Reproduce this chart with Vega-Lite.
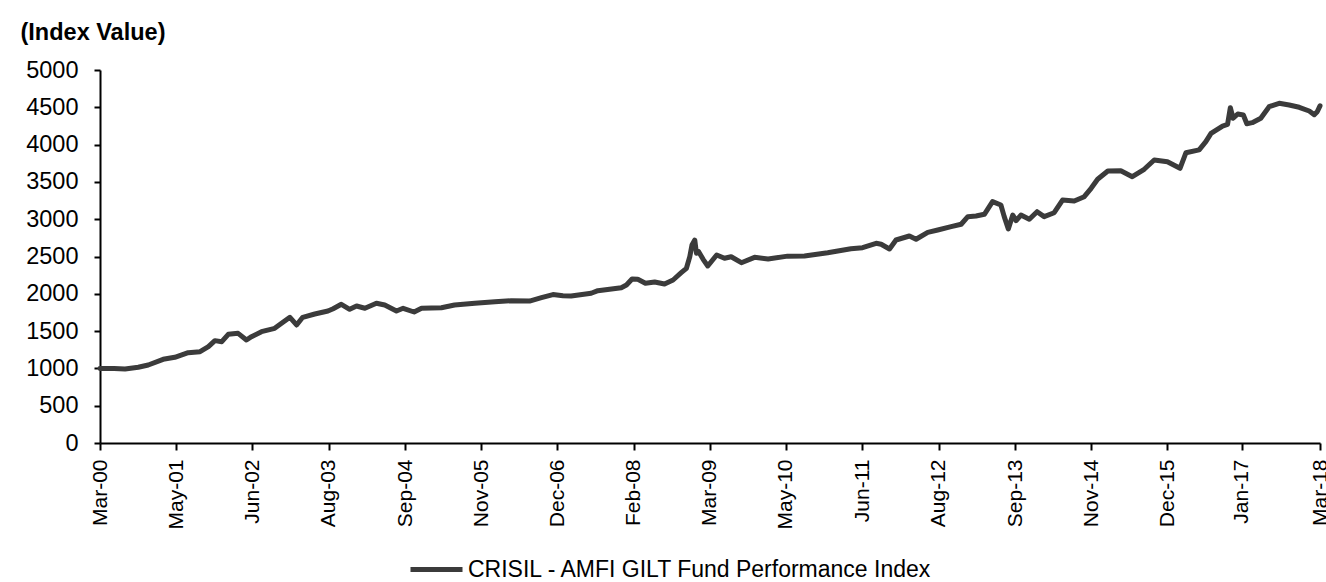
{
  "$schema": "https://vega.github.io/schema/vega-lite/v6.json",
  "width": 1220,
  "height": 373,
  "autosize": "none",
  "padding": {"left": 100, "top": 70, "right": 6, "bottom": 139},
  "background": "white",
  "config": {
    "font": "Liberation Sans",
    "view": {"stroke": null},
    "axis": {"grid": false, "domainColor": "#000000", "domainWidth": 2, "tickColor": "#000000", "tickWidth": 2, "labelColor": "#000000", "labelFont": "Liberation Sans"}
  },
  "data": {
    "values": [
      {"date": "2000-03-31", "value": 1000},
      {"date": "2000-06-15", "value": 998},
      {"date": "2000-08-13", "value": 992},
      {"date": "2000-10-23", "value": 1015},
      {"date": "2000-12-16", "value": 1046},
      {"date": "2001-03-06", "value": 1122},
      {"date": "2001-05-08", "value": 1149},
      {"date": "2001-07-19", "value": 1211},
      {"date": "2001-09-21", "value": 1224},
      {"date": "2001-11-05", "value": 1291},
      {"date": "2001-12-10", "value": 1372},
      {"date": "2002-01-16", "value": 1358},
      {"date": "2002-02-20", "value": 1457},
      {"date": "2002-04-14", "value": 1470},
      {"date": "2002-05-29", "value": 1381},
      {"date": "2002-06-25", "value": 1425},
      {"date": "2002-08-18", "value": 1492},
      {"date": "2002-10-28", "value": 1537},
      {"date": "2002-12-04", "value": 1604},
      {"date": "2003-01-18", "value": 1685},
      {"date": "2003-02-23", "value": 1582},
      {"date": "2003-03-28", "value": 1685},
      {"date": "2003-06-01", "value": 1729},
      {"date": "2003-08-11", "value": 1769},
      {"date": "2003-09-08", "value": 1800},
      {"date": "2003-10-22", "value": 1859},
      {"date": "2003-12-06", "value": 1792},
      {"date": "2004-01-12", "value": 1836},
      {"date": "2004-02-26", "value": 1806},
      {"date": "2004-04-28", "value": 1873},
      {"date": "2004-06-12", "value": 1850},
      {"date": "2004-08-14", "value": 1769},
      {"date": "2004-09-19", "value": 1806},
      {"date": "2004-11-17", "value": 1756},
      {"date": "2004-12-27", "value": 1806},
      {"date": "2005-04-13", "value": 1814},
      {"date": "2005-06-23", "value": 1850},
      {"date": "2005-10-10", "value": 1873},
      {"date": "2006-01-26", "value": 1894},
      {"date": "2006-04-24", "value": 1907},
      {"date": "2006-08-01", "value": 1903},
      {"date": "2006-10-04", "value": 1948},
      {"date": "2006-12-05", "value": 1990},
      {"date": "2007-01-28", "value": 1975},
      {"date": "2007-03-13", "value": 1971},
      {"date": "2007-06-29", "value": 2007},
      {"date": "2007-08-04", "value": 2042},
      {"date": "2007-12-08", "value": 2082},
      {"date": "2008-01-05", "value": 2118},
      {"date": "2008-02-04", "value": 2198},
      {"date": "2008-03-06", "value": 2194},
      {"date": "2008-04-16", "value": 2141},
      {"date": "2008-06-05", "value": 2158},
      {"date": "2008-07-28", "value": 2131},
      {"date": "2008-09-12", "value": 2185},
      {"date": "2008-10-26", "value": 2283},
      {"date": "2008-11-23", "value": 2342},
      {"date": "2008-12-11", "value": 2497},
      {"date": "2008-12-23", "value": 2654},
      {"date": "2009-01-07", "value": 2720},
      {"date": "2009-01-16", "value": 2543},
      {"date": "2009-01-28", "value": 2564},
      {"date": "2009-02-21", "value": 2462},
      {"date": "2009-03-18", "value": 2373},
      {"date": "2009-05-05", "value": 2520},
      {"date": "2009-06-16", "value": 2476},
      {"date": "2009-07-22", "value": 2497},
      {"date": "2009-09-15", "value": 2417},
      {"date": "2009-11-25", "value": 2489},
      {"date": "2010-02-06", "value": 2466},
      {"date": "2010-05-22", "value": 2505},
      {"date": "2010-08-21", "value": 2507},
      {"date": "2010-12-24", "value": 2551},
      {"date": "2011-04-28", "value": 2605},
      {"date": "2011-06-30", "value": 2618},
      {"date": "2011-09-11", "value": 2677},
      {"date": "2011-10-08", "value": 2664},
      {"date": "2011-11-22", "value": 2601},
      {"date": "2011-12-27", "value": 2721},
      {"date": "2012-03-08", "value": 2775},
      {"date": "2012-04-13", "value": 2731},
      {"date": "2012-06-15", "value": 2824},
      {"date": "2012-08-08", "value": 2855},
      {"date": "2012-10-19", "value": 2900},
      {"date": "2012-12-12", "value": 2932},
      {"date": "2013-01-17", "value": 3034},
      {"date": "2013-03-02", "value": 3043},
      {"date": "2013-04-16", "value": 3066},
      {"date": "2013-05-30", "value": 3235},
      {"date": "2013-07-14", "value": 3190},
      {"date": "2013-08-01", "value": 3034},
      {"date": "2013-08-23", "value": 2870},
      {"date": "2013-09-16", "value": 3056},
      {"date": "2013-10-04", "value": 2980},
      {"date": "2013-10-30", "value": 3056},
      {"date": "2013-12-14", "value": 2999},
      {"date": "2014-01-25", "value": 3101},
      {"date": "2014-03-04", "value": 3034},
      {"date": "2014-04-27", "value": 3087},
      {"date": "2014-06-11", "value": 3257},
      {"date": "2014-08-13", "value": 3244},
      {"date": "2014-10-06", "value": 3302},
      {"date": "2014-11-12", "value": 3414},
      {"date": "2014-12-17", "value": 3535},
      {"date": "2015-02-10", "value": 3646},
      {"date": "2015-04-21", "value": 3650},
      {"date": "2015-06-22", "value": 3570},
      {"date": "2015-08-25", "value": 3669},
      {"date": "2015-10-18", "value": 3794},
      {"date": "2015-12-28", "value": 3771},
      {"date": "2016-03-05", "value": 3682},
      {"date": "2016-04-06", "value": 3891},
      {"date": "2016-06-16", "value": 3930},
      {"date": "2016-07-22", "value": 4039},
      {"date": "2016-08-19", "value": 4151},
      {"date": "2016-10-20", "value": 4249},
      {"date": "2016-11-16", "value": 4270},
      {"date": "2016-12-01", "value": 4495},
      {"date": "2016-12-16", "value": 4353},
      {"date": "2017-01-10", "value": 4410},
      {"date": "2017-02-09", "value": 4397},
      {"date": "2017-02-28", "value": 4280},
      {"date": "2017-03-29", "value": 4294},
      {"date": "2017-05-14", "value": 4353},
      {"date": "2017-06-28", "value": 4508},
      {"date": "2017-08-21", "value": 4554},
      {"date": "2017-10-14", "value": 4531},
      {"date": "2017-12-07", "value": 4500},
      {"date": "2018-01-30", "value": 4450},
      {"date": "2018-02-26", "value": 4400},
      {"date": "2018-03-14", "value": 4441},
      {"date": "2018-03-29", "value": 4520}
    ]
  },
  "mark": {"type": "line", "strokeWidth": 5, "strokeJoin": "round", "strokeCap": "round"},
  "encoding": {
    "x": {
      "field": "date",
      "type": "temporal",
      "scale": {"type": "utc", "domain": [{"utc": true, "year": 2000, "month": 3, "date": 31}, {"utc": true, "year": 2018, "month": 3, "date": 29}], "nice": false},
      "axis": {
        "title": null,
        "labelExpr": "utcFormat(datum.value, '%b-%y')",
        "labelAngle": -90,
        "labelAlign": "right",
        "labelBaseline": "middle",
        "labelFontSize": 21,
        "labelPadding": 9,
        "tickSize": 7,
        "labelOverlap": false,
        "labelBound": false,
        "labelFlush": false,
        "values": [
          {"utc": true, "year": 2000, "month": 3, "date": 31},
          {"utc": true, "year": 2001, "month": 5, "date": 15},
          {"utc": true, "year": 2002, "month": 6, "date": 29},
          {"utc": true, "year": 2003, "month": 8, "date": 14},
          {"utc": true, "year": 2004, "month": 9, "date": 29},
          {"utc": true, "year": 2005, "month": 11, "date": 14},
          {"utc": true, "year": 2006, "month": 12, "date": 29},
          {"utc": true, "year": 2008, "month": 2, "date": 14},
          {"utc": true, "year": 2009, "month": 3, "date": 29},
          {"utc": true, "year": 2010, "month": 5, "date": 13},
          {"utc": true, "year": 2011, "month": 6, "date": 28},
          {"utc": true, "year": 2012, "month": 8, "date": 13},
          {"utc": true, "year": 2013, "month": 9, "date": 28},
          {"utc": true, "year": 2014, "month": 11, "date": 13},
          {"utc": true, "year": 2015, "month": 12, "date": 28},
          {"utc": true, "year": 2017, "month": 1, "date": 31},
          {"utc": true, "year": 2018, "month": 3, "date": 29}
        ]
      }
    },
    "y": {
      "field": "value",
      "type": "quantitative",
      "scale": {"domain": [0, 5000], "nice": false, "zero": true},
      "axis": {
        "title": "(Index Value)",
        "titleAngle": 0,
        "titleAlign": "left",
        "titleBaseline": "alphabetic",
        "titleX": -80,
        "titleY": -31,
        "titleFontSize": 23.5,
        "titleFontWeight": "bold",
        "titleColor": "#000000",
        "titleFont": "Liberation Sans",
        "format": "d",
        "values": [0, 500, 1000, 1500, 2000, 2500, 3000, 3500, 4000, 4500, 5000],
        "labelFontSize": 23.5,
        "labelPadding": 16,
        "tickSize": 6,
        "labelFlush": false,
        "labelBound": false
      }
    },
    "color": {
      "datum": "CRISIL - AMFI GILT Fund Performance Index",
      "type": "nominal",
      "scale": {"range": ["#3b3b3b"]},
      "legend": {
        "title": null,
        "orient": "none",
        "legendX": 308,
        "legendY": 471,
        "symbolType": "stroke",
        "symbolSize": 2704,
        "symbolStrokeWidth": 5,
        "labelFontSize": 23,
        "labelLimit": 0,
        "labelColor": "#000000",
        "labelFont": "Liberation Sans",
        "labelOffset": 3,
        "padding": 0
      }
    }
  }
}
